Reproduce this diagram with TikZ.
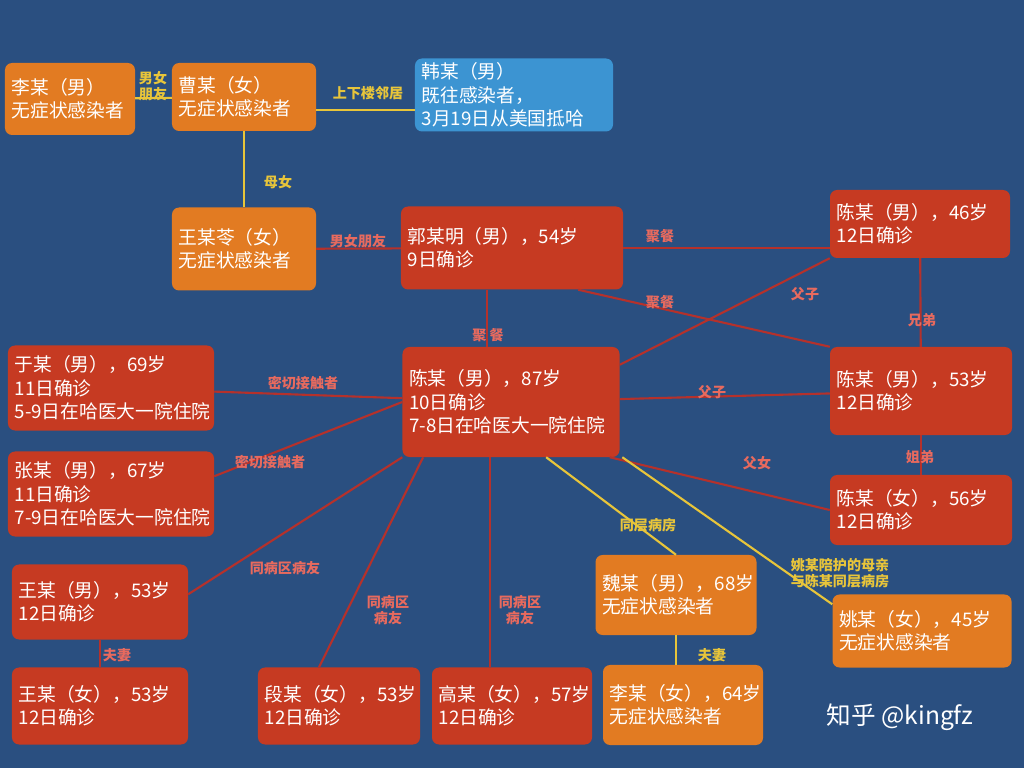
\documentclass[tikz,border=0pt]{standalone}
\usepackage{fontspec}
\setmainfont{Noto Sans CJK SC}
\usetikzlibrary{positioning}

\definecolor{bgblue}{HTML}{2A4F80}
\definecolor{boxred}{HTML}{C63A22}
\definecolor{boxorange}{HTML}{E27B22}
\definecolor{boxblue}{HTML}{3C94D2}
\definecolor{linered}{HTML}{B5312B}
\definecolor{lineyellow}{HTML}{E8C53A}
\definecolor{labred}{HTML}{E86A5E}

\begin{document}
\begin{tikzpicture}[x=0.03cm,y=-0.03cm]
  \tikzset{box/.style 2 args = {draw=none, rounded corners=6pt, align=left, text=white,
      font=\fontsize{16}{20}\selectfont, inner xsep=0.2cm, inner ysep=0pt,
      text width=#1cm-0.4cm, minimum height=#2cm}}
  \tikzset{redbox/.style 2 args = {box={#1}{#2}, fill=boxred}}
  \tikzset{orgbox/.style 2 args = {box={#1}{#2}, fill=boxorange}}
  \tikzset{bluebox/.style 2 args = {box={#1}{#2}, fill=boxblue}}
  \tikzset{redline/.style = {draw=linered, line width=1.8pt}}
  \tikzset{yelline/.style = {draw=lineyellow, line width=1.8pt}}
  \tikzset{redlab/.style = {text=labred, font=\bfseries\fontsize{12}{14}\selectfont, align=center}}
  \tikzset{yellab/.style = {text=lineyellow, font=\bfseries\fontsize{12}{14}\selectfont, align=center}}

  \fill[bgblue] (0,0) rectangle (1024,768);

  %%%%%%%%%%%% nodes

  \node[orgbox={3.9}{2.16}] (li1) at (70,99) {李某（男）\\无症状感染者};
  \node[orgbox={4.32}{2.04}] (cao) at (244,97) {曹某（女）\\无症状感染者};
  \node[bluebox={5.94}{2.19}] (han) at (514,95) {韩某（男）\\既往感染者，\\3月19日从美国抵哈};
  \node[orgbox={4.32}{2.49}] (wang1) at (244,249) {王某苓（女）\\无症状感染者};
  \node[redbox={6.66}{2.49}] (guo) at (512,248) {郭某明（男），54岁\\9日确诊};
  \node[redbox={5.4}{2.04}] (chen46) at (920,224) {陈某（男），46岁\\12日确诊};
  \node[redbox={6.51}{3.3}] (chen87) at (511,402) {陈某（男），87岁\\10日确诊\\7-8日在哈医大一院住院};
  \node[redbox={6.18}{2.55}] (yu) at (111,388) {于某（男），69岁\\11日确诊\\\mbox{5-9日在哈医大一院住院}};
  \node[redbox={6.18}{2.55}] (zhang) at (111,494) {张某（男），67岁\\11日确诊\\\mbox{7-9日在哈医大一院住院}};
  \node[redbox={5.46}{2.64}] (chen53) at (921,391) {陈某（男），53岁\\12日确诊};
  \node[redbox={5.46}{2.1}] (chen56) at (921,510) {陈某（女），56岁\\12日确诊};
  \node[redbox={5.28}{2.25}] (wangm) at (100,602) {王某（男），53岁\\12日确诊};
  \node[redbox={5.28}{2.31}] (wangf) at (100,706) {王某（女），53岁\\12日确诊};
  \node[redbox={4.86}{2.31}] (duan) at (339,706) {段某（女），53岁\\12日确诊};
  \node[redbox={4.8}{2.31}] (gao) at (512,706) {高某（女），57岁\\12日确诊};
  \node[orgbox={4.83}{2.4}] (wei) at (676,595) {魏某（男），68岁\\无症状感染者};
  \node[orgbox={4.8}{2.4}] (lif) at (683,705) {李某（女），64岁\\无症状感染者};
  \node[orgbox={5.37}{2.19}] (yao) at (922,631) {姚某（女），45岁\\无症状感染者};

  \node[text=white, font=\fontsize{21}{24}\selectfont] (mark) at (900,717) {知乎 @kingfz};

  %%%%%%%%%%%% connectors

  \path (li1) edge[yelline] (cao);
  \node[yellab] at (153,86) {男女\\朋友};
  \coordinate (k1) at ([yshift=-11pt] cao.east);
  \path (k1) edge[yelline] (k1 -| han.west);
  \node[yellab] at (368,93) {上下楼邻居};
  \path (cao) edge[yelline] (wang1);
  \node[yellab] at (278,182) {母女};
  \path (wang1) edge[redline] (guo);
  \node[redlab] at (358,241) {男女朋友};
  \path (guo.east) edge[redline] (guo.east -| chen46.west);
  \node[redlab] at (660,236) {聚餐};
  \path (guo.south east) ++(-45,0) coordinate (g1) (g1) edge[redline] (chen53.north west);
  \node[redlab] at (660,302) {聚餐};
  \path (guo.south) ++(-25,0) coordinate (g2) (g2) edge[redline] (g2 |- chen87.north);
  \node[redlab] at (488,335) {聚\ 餐};
  \path (chen87.north east) ++(0,18) coordinate (c1) (c1) edge[redline] (chen46.south west);
  \node[redlab] at (805,294) {父子};
  \path (chen46) edge[redline] (chen53);
  \node[redlab] at (922,320) {兄弟};
  \path (chen87) edge[redline] (chen53);
  \node[redlab] at (712,392) {父子};
  \path (chen53) edge[redline] (chen56);
  \node[redlab] at (920,457) {姐弟};
  \path (chen87.south east) ++(-10,0) coordinate (c2) (c2) edge[redline] (chen56.west);
  \node[redlab] at (757,463) {父女};
  \path (yu) edge[redline] (chen87);
  \node[redlab] at (303,383) {密切接触者};
  \path (zhang.north east) ++(0,25) coordinate (z1) (z1) edge[redline] (chen87.west);
  \node[redlab] at (270,462) {密切接触者};
  \path (wangm.north east) ++(0,30) coordinate (w1) (w1) edge[redline] (chen87.south west);
  \node[redlab] at (285,568) {同病区病友};
  \path (duan.north) ++(-20,0) coordinate (d1) (d1) edge[redline] ([xshift=-75] chen87.south);
  \node[redlab] at (388,610) {同病区\\病友};
  \path (gao.north) ++(-22,0) coordinate (h1) (h1) edge[redline] (h1 |- chen87.south);
  \node[redlab] at (520,610) {同病区\\病友};
  \path (wei.north) edge[yelline] ([xshift=30] chen87.south);
  \node[yellab] at (648,525) {同层病房};
  \path (yao.north west) ++(0,10) coordinate (y1) (y1) edge[yelline] ([xshift=95] chen87.south);
  \node[yellab] at (840,573) {姚某陪护的母亲\\与陈某同层病房};
  \path (wangm) edge[redline] (wangf);
  \node[redlab] at (117,655) {夫妻};
  \path (wei) edge[yelline] (wei |- lif.north);
  \node[yellab] at (712,655) {夫妻};
\end{tikzpicture}
\end{document}
